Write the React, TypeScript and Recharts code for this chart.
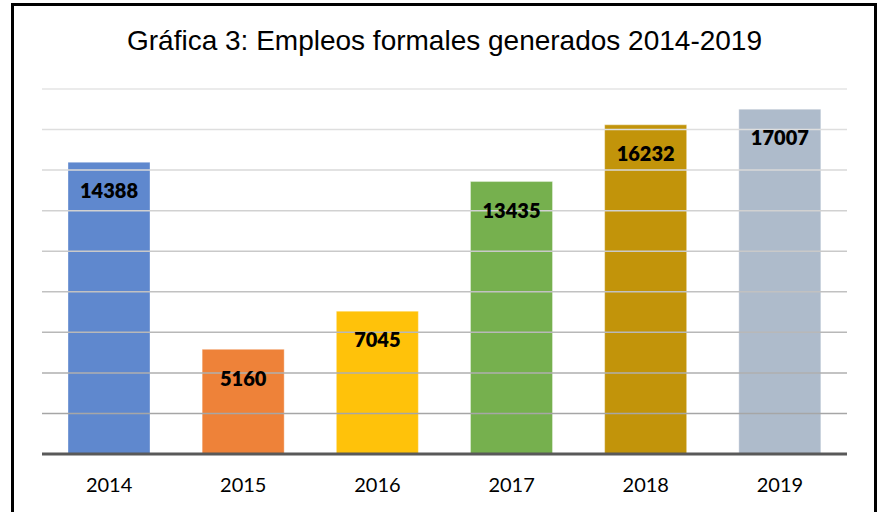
import { BarChart, Bar, XAxis, YAxis, ReferenceLine, LabelList, Cell } from 'recharts';

const YEARS = ['2014', '2015', '2016', '2017', '2018', '2019'];
const EMPLEOS = [14388, 5160, 7045, 13435, 16232, 17007];
const Y_TICKS = [0, 2000, 4000, 6000, 8000, 10000, 12000, 14000, 16000, 18000];

const BAR_COLORS = ['#5883cc', '#ed7d31', '#ffc000', '#70ad47', '#bf9000', '#abb8c9'];
// grid gets darker towards the baseline
const GRID_COLORS = ['#a6a6a6', '#afafaf', '#b8b8b8', '#c1c1c1', '#c9c9c9', '#d1d1d1', '#d8d8d8', '#dedede', '#e4e4e4'];

const data = YEARS.map((year, i) => ({ year, value: EMPLEOS[i] }));

export default function App() {
  return (
    <div style={{ position: 'absolute', left: 0, top: 0, width: 877, height: 512, background: '#fff', overflow: 'hidden' }}>
      <div
        style={{
          position: 'absolute', left: 11, top: 3, width: 866, height: 530,
          border: '3px solid #000', boxSizing: 'border-box',
        }}
      />
      <div
        style={{
          position: 'absolute', left: 0, width: 889, top: 24, textAlign: 'center',
          fontFamily: '"Liberation Sans", Arial, sans-serif', fontSize: 28, lineHeight: '34px', color: '#000',
        }}
      >
        Gráfica 3: Empleos formales generados 2014-2019
      </div>
      <div style={{ position: 'absolute', left: 0, top: 0 }}>
        <BarChart width={877} height={512} data={data} margin={{ top: 89, right: 30, left: 42, bottom: 18 }}>
          <YAxis hide domain={[0, 18000]} ticks={Y_TICKS} />
          {Y_TICKS.slice(1).map((t, i) => (
            <ReferenceLine key={t} y={t} stroke={GRID_COLORS[i]} strokeWidth={1.5} />
          ))}
          <Bar dataKey="value" barSize={82} isAnimationActive={false} fillOpacity={0.96} stroke="#ffffff" strokeOpacity={0.35} strokeWidth={1}>
            {data.map((d, i) => (
              <Cell key={d.year} fill={BAR_COLORS[i]} />
            ))}
            <LabelList
              dataKey="value"
              position="insideTop"
              offset={22}
              fill="#000"
              style={{ fontFamily: 'Lato, "Noto Sans", sans-serif', fontSize: 20, fontWeight: 800 }}
            />
          </Bar>
          <XAxis
            dataKey="year"
            height={40}
            tickLine={false}
            axisLine={{ stroke: '#595959', strokeWidth: 3 }}
            tickMargin={18}
            tick={{ fill: '#000', fontSize: 20, fontFamily: 'Lato, "Noto Sans", sans-serif' }}
          />
        </BarChart>
      </div>
    </div>
  );
}
